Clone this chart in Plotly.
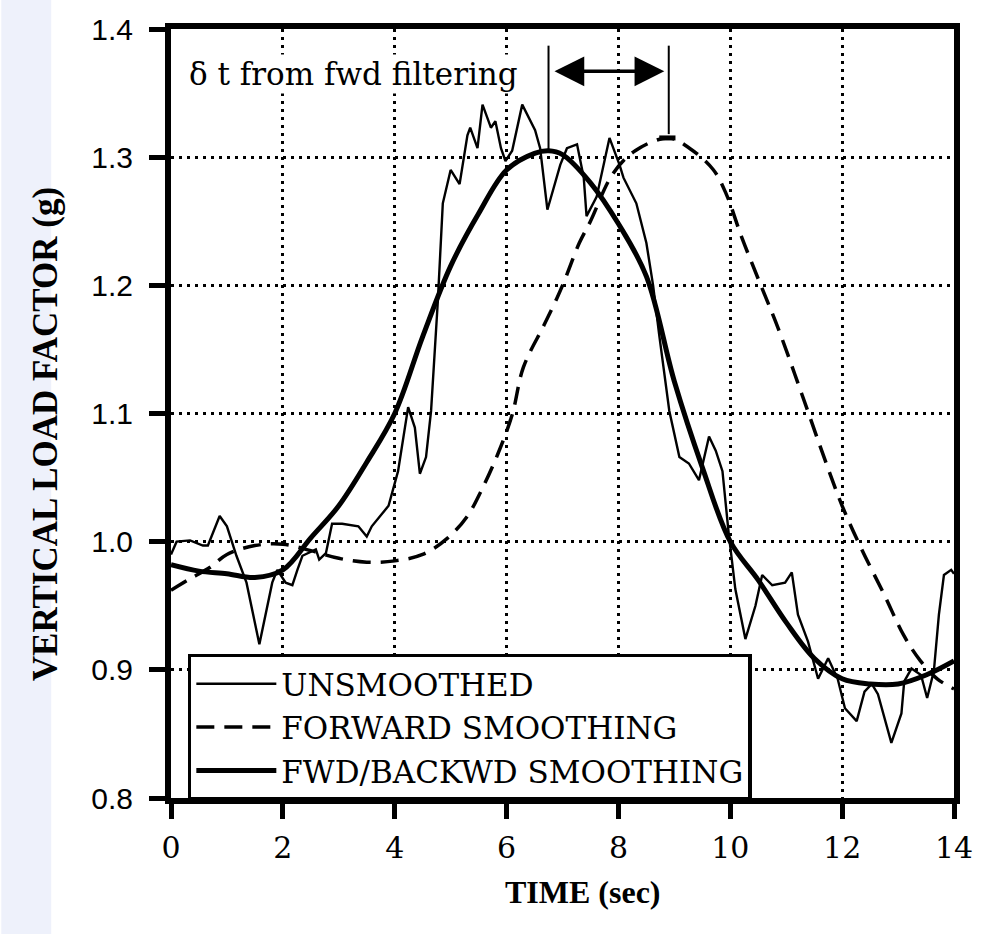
import plotly.graph_objects as go

# ---------------- data ----------------
unsm_t = [0.0, 0.1, 0.34, 0.57, 0.66, 0.87, 1.0, 1.17, 1.35, 1.58, 1.81, 1.9, 2.05, 2.17, 2.26,
          2.35, 2.59, 2.65, 2.77, 2.88, 3.06, 3.35, 3.5, 3.59, 3.89, 4.06, 4.24, 4.36, 4.45, 4.56,
          4.65, 4.77, 4.86, 5.0, 5.16, 5.3, 5.35, 5.48, 5.57, 5.66, 5.72, 5.8, 5.9, 5.98, 6.1,
          6.28, 6.37, 6.51, 6.6, 6.73, 6.96, 7.08, 7.26, 7.38, 7.43, 7.61, 7.84, 8.02, 8.09, 8.32,
          8.5, 8.62, 8.73, 8.91, 9.09, 9.26, 9.44, 9.62, 9.74, 9.86, 9.97, 10.09, 10.27, 10.45,
          10.57, 10.75, 10.98, 11.1, 11.21, 11.39, 11.57, 11.75, 11.92, 12.05, 12.26, 12.4, 12.53,
          12.64, 12.88, 13.06, 13.11, 13.24, 13.41, 13.52, 13.64, 13.73, 13.82, 13.95, 14.0]
unsm_y = [0.990, 1.000, 1.001, 0.997, 0.997, 1.020, 1.012, 0.989, 0.968, 0.920, 0.968, 0.978, 0.968,
          0.966, 0.978, 0.989, 0.994, 0.986, 0.991, 1.014, 1.014, 1.012, 1.004, 1.012, 1.028, 1.055,
          1.105, 1.089, 1.053, 1.066, 1.102, 1.187, 1.264, 1.290, 1.279, 1.317, 1.323, 1.307, 1.341,
          1.331, 1.323, 1.328, 1.307, 1.297, 1.305, 1.341, 1.333, 1.321, 1.307, 1.259, 1.294, 1.307,
          1.310, 1.284, 1.254, 1.269, 1.315, 1.294, 1.284, 1.264, 1.233, 1.200, 1.161, 1.102, 1.066,
          1.061, 1.048, 1.082, 1.071, 1.055, 1.007, 0.963, 0.924, 0.950, 0.974, 0.966, 0.968, 0.976,
          0.943, 0.922, 0.893, 0.909, 0.893, 0.870, 0.860, 0.883, 0.889, 0.881, 0.843, 0.866, 0.891,
          0.901, 0.896, 0.878, 0.899, 0.943, 0.974, 0.978, 0.975]

fwd_t = [0.0, 0.3, 0.7, 1.0, 1.5, 2.0, 2.5, 3.0, 3.5, 4.0, 4.5, 4.95, 5.3, 5.55, 5.84, 6.1, 6.3,
         6.67, 6.9, 7.02, 7.3, 7.5, 7.9, 8.3, 8.9, 9.27, 9.7, 9.93, 10.2, 10.5, 10.86, 11.28, 11.7,
         12.0, 12.35, 12.76, 13.1, 13.4, 13.7, 14.0]
fwd_y = [0.962, 0.970, 0.980, 0.990, 0.997, 0.998, 0.993, 0.987, 0.984, 0.985, 0.990, 1.003, 1.020,
         1.040, 1.068, 1.099, 1.136, 1.169, 1.190, 1.202, 1.233, 1.250, 1.287, 1.305, 1.315, 1.307,
         1.290, 1.271, 1.238, 1.205, 1.166, 1.115, 1.063, 1.028, 0.994, 0.958, 0.927, 0.907, 0.893,
         0.885]

fb_t = [0.0, 0.5, 1.0, 1.5, 2.0, 2.5, 3.0, 3.5, 4.0, 4.5, 5.0, 5.5, 6.0, 6.5, 6.75, 7.0, 7.5, 8.0,
        8.5, 9.0, 9.5, 10.0, 10.5, 11.0, 11.5, 12.0, 12.5, 13.0, 13.5, 14.0]
fb_y = [0.982, 0.977, 0.975, 0.972, 0.978, 1.003, 1.028, 1.062, 1.100, 1.160, 1.215, 1.256, 1.290,
        1.303, 1.305, 1.302, 1.280, 1.248, 1.207, 1.125, 1.058, 1.000, 0.970, 0.937, 0.909, 0.893,
        0.889, 0.889, 0.896, 0.907]

series_names = ["UNSMOOTHED", "FORWARD SMOOTHING", "FWD/BACKWD SMOOTHING"]
x_ticks = [0, 2, 4, 6, 8, 10, 12, 14]
y_ticks = [0.8, 0.9, 1.0, 1.1, 1.2, 1.3, 1.4]
y_tick_labels = ["0.8", "0.9", "1.0", "1.1", "1.2", "1.3", "1.4"]
delta_label = "δ t from fwd filtering"

SERIF = "Liberation Serif, Times New Roman, serif"
WIDE_SERIF = "DejaVu Serif, serif"
SANS = "Liberation Sans, Arial, sans-serif"

fig = go.Figure()
fig.add_trace(go.Scatter(x=unsm_t, y=unsm_y, mode="lines", name=series_names[0],
                         line=dict(color="black", width=2.4)))
fig.add_trace(go.Scatter(x=fwd_t, y=fwd_y, mode="lines", name=series_names[1],
                         line=dict(color="black", width=3.5, dash="18px,10px", shape="spline")))
fig.add_trace(go.Scatter(x=fb_t, y=fb_y, mode="lines", name=series_names[2],
                         line=dict(color="black", width=5, shape="spline")))

# delta-t markers derived from the data peaks
i_fb = max(range(len(fb_y)), key=lambda i: fb_y[i])
i_fw = max(range(len(fwd_y)), key=lambda i: fwd_y[i])
t_fb, v_fb = fb_t[i_fb], fb_y[i_fb]
t_fw, v_fw = fwd_t[i_fw], fwd_y[i_fw]
top_v = 1.387
arrow_v = 1.367

shapes = [
    dict(type="line", xref="x", yref="y", x0=t_fb, x1=t_fb, y0=top_v, y1=v_fb,
         line=dict(color="black", width=2)),
    dict(type="line", xref="x", yref="y", x0=t_fw, x1=t_fw, y0=top_v, y1=v_fw + 0.003,
         line=dict(color="black", width=2)),
    dict(type="line", xref="x", yref="y", x0=t_fw - 0.17, x1=t_fw + 0.12, y0=v_fw, y1=v_fw,
         line=dict(color="black", width=5)),
    # faint scan strip at the far left
    dict(type="rect", xref="paper", yref="paper", x0=-0.2167, x1=-0.153, y0=-0.2, y1=1.05,
         fillcolor="#eef1fb", line=dict(width=0), layer="below"),
]

annotations = [
    dict(x=t_fw - 0.08, y=arrow_v, ax=t_fb + 0.08, ay=arrow_v, xref="x", yref="y",
         axref="x", ayref="y", text="", showarrow=True, arrowhead=2, arrowside="end+start",
         arrowsize=1.7, arrowwidth=3.5, arrowcolor="black"),
    dict(x=0.02, y=1.365, xref="paper", yref="y", text=delta_label, showarrow=False,
         xanchor="left", yanchor="middle", bgcolor="white",
         font=dict(family=WIDE_SERIF, size=31, color="black")),
    dict(x=0.526, y=-0.122, xref="paper", yref="paper", text="<b>TIME (sec)</b>",
         showarrow=False, xanchor="center", yanchor="middle",
         font=dict(family=SERIF, size=32, color="black")),
    dict(x=-0.161, y=0.473, xref="paper", yref="paper", text="<b>VERTICAL LOAD FACTOR (g)</b>",
         showarrow=False, xanchor="center", yanchor="middle", textangle=-90,
         font=dict(family=SERIF, size=35, color="black")),
]

fig.update_layout(
    width=985, height=934,
    margin=dict(l=171, r=25, t=20, b=136),
    paper_bgcolor="white", plot_bgcolor="white",
    showlegend=True,
    legend=dict(x=0.0215, y=0.1877, xanchor="left", yanchor="top",
                bgcolor="white", bordercolor="black", borderwidth=3.5,
                font=dict(family=WIDE_SERIF, size=31, color="black"),
                itemwidth=80, tracegroupgap=0),
    shapes=shapes,
    annotations=annotations,
)

fig.update_xaxes(range=[0, 14], tickvals=x_ticks, ticktext=[str(v) for v in x_ticks],
                 showline=True, linewidth=6, linecolor="black", mirror=True,
                 ticks="outside", ticklen=15, tickwidth=5, tickcolor="black",
                 showgrid=True, gridcolor="black", gridwidth=2.5, griddash="3px,5px",
                 zeroline=False, ticklabelstandoff=3,
                 tickfont=dict(family=WIDE_SERIF, size=30, color="black"))
fig.update_yaxes(range=[0.8, 1.4], tickvals=y_ticks, ticktext=y_tick_labels,
                 showline=True, linewidth=6, linecolor="black", mirror=True,
                 ticks="outside", ticklen=16, tickwidth=5, tickcolor="black",
                 showgrid=True, gridcolor="black", gridwidth=2.5, griddash="3px,5px",
                 zeroline=False, ticklabelstandoff=10,
                 tickfont=dict(family=SANS, size=30, color="black"))

fig.write_html("out.html")
